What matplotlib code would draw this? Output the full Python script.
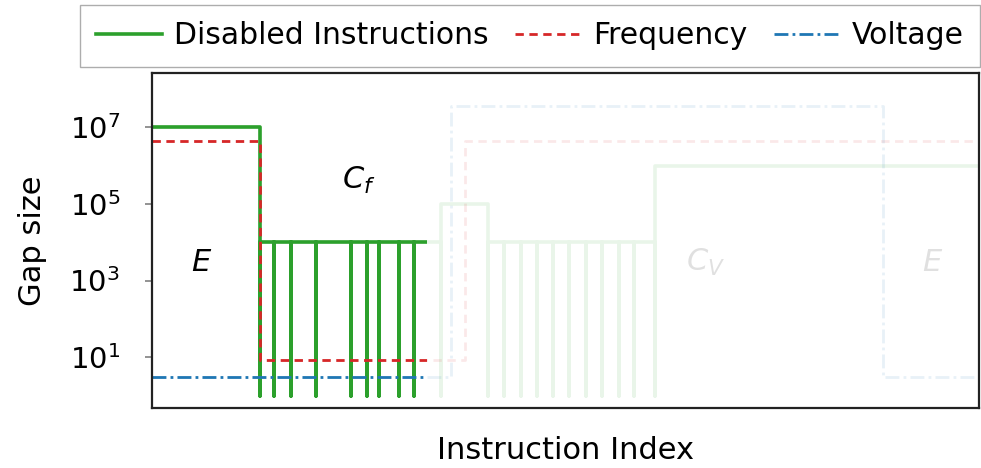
import matplotlib
matplotlib.use("Agg")
import matplotlib.pyplot as plt
import matplotlib.transforms as mtransforms
from matplotlib.patches import Rectangle

# instruction index where a new gap starts (every change dips to gap 1 first)
di_x = [0, 13, 14.8, 16.8, 19.8, 24.1, 26.0, 27.4, 29.9, 31.7,
        34.9, 40.6, 42.6, 44.6, 46.6, 48.5, 50.4, 52.5, 54.4, 56.5, 58.3, 60.8]
di_level = [1e7, 1e4, 1e4, 1e4, 1e4, 1e4, 1e4, 1e4, 1e4, 1e4,
            1e5, 1e4, 1e4, 1e4, 1e4, 1e4, 1e4, 1e4, 1e4, 1e4, 1e4, 1e6]
di_min = 1

freq_x = [0, 13, 37.8, 100]
freq_y = [4.5e6, 8.5, 4.5e6, 4.5e6]

volt_x = [0, 36.2, 88.4, 100]
volt_y = [3, 3.6e7, 3, 3]

x_end = 100
cut = 33.3  # everything right of this is faded

labels = [("$E$", 6, 3e3, True), ("$C_f$", 25, 4e5, True),
          ("$C_V$", 66.9, 3e3, False), ("$E$", 94.4, 3e3, False)]

# build step points for disabled instructions
gx, gy = [], []
for i, (x, lv) in enumerate(zip(di_x, di_level)):
    if i > 0:
        gx.append(x); gy.append(di_min)
    gx.append(x); gy.append(lv)
gx.append(x_end); gy.append(di_level[-1])

plt.rcParams['font.family'] = ['DejaVu Sans']
plt.rcParams['mathtext.fontset'] = 'dejavusans'

fig = plt.figure(figsize=(9.81, 4.68), dpi=100)
ax = fig.add_axes([0.155, 0.128, 0.843, 0.716])

green, red, blue = '#2ca02c', '#d62728', '#1f77b4'
series = [
    (gx, gy, green, '-', 2.6, 'Disabled Instructions'),
    (freq_x, freq_y, red, (0, (3, 2)), 2.0, 'Frequency'),
    (volt_x, volt_y, blue, (0, (5, 1.5, 1, 1.5)), 2.0, 'Voltage'),
]

trans = mtransforms.blended_transform_factory(ax.transData, ax.transAxes)
handles = []
for xs, ys, c, ls, lw, name in series:
    ax.plot(xs, ys, color=c, ls=ls, lw=lw, alpha=0.1, drawstyle='steps-post')
    ln, = ax.plot(xs, ys, color=c, ls=ls, lw=lw, drawstyle='steps-post', label=name)
    ln.set_clip_path(Rectangle((0, 0), cut, 1, transform=trans))
    handles.append(ln)

for txt, x, y, solid in labels:
    ax.text(x, y, txt, fontsize=22, ha='center', va='center',
            color='black', alpha=1.0 if solid else 0.12)

ax.set_yscale('log')
ax.set_xlim(0, x_end)
ax.set_ylim(0.47, 2.6e8)
ax.set_yticks([1e1, 1e3, 1e5, 1e7])
ax.minorticks_off()
ax.set_xticks([])
ax.tick_params(axis='y', direction='out', labelsize=21, length=5,
               width=1.2, color='#808080', pad=18)
ax.set_ylabel('Gap size', fontsize=22, labelpad=16)
ax.set_xlabel('Instruction Index', fontsize=22, labelpad=20)
for s in ax.spines.values():
    s.set_linewidth(1.6)
    s.set_color('#222222')

leg = fig.legend(handles=handles, loc='upper right', bbox_to_anchor=(0.999, 0.99),
                 ncol=3, fontsize=21.5, fancybox=False, edgecolor='#999999',
                 handlelength=2.2, columnspacing=0.9, handletextpad=0.4,
                 borderpad=0.55, borderaxespad=0)

fig.savefig('out.png', dpi=100)
